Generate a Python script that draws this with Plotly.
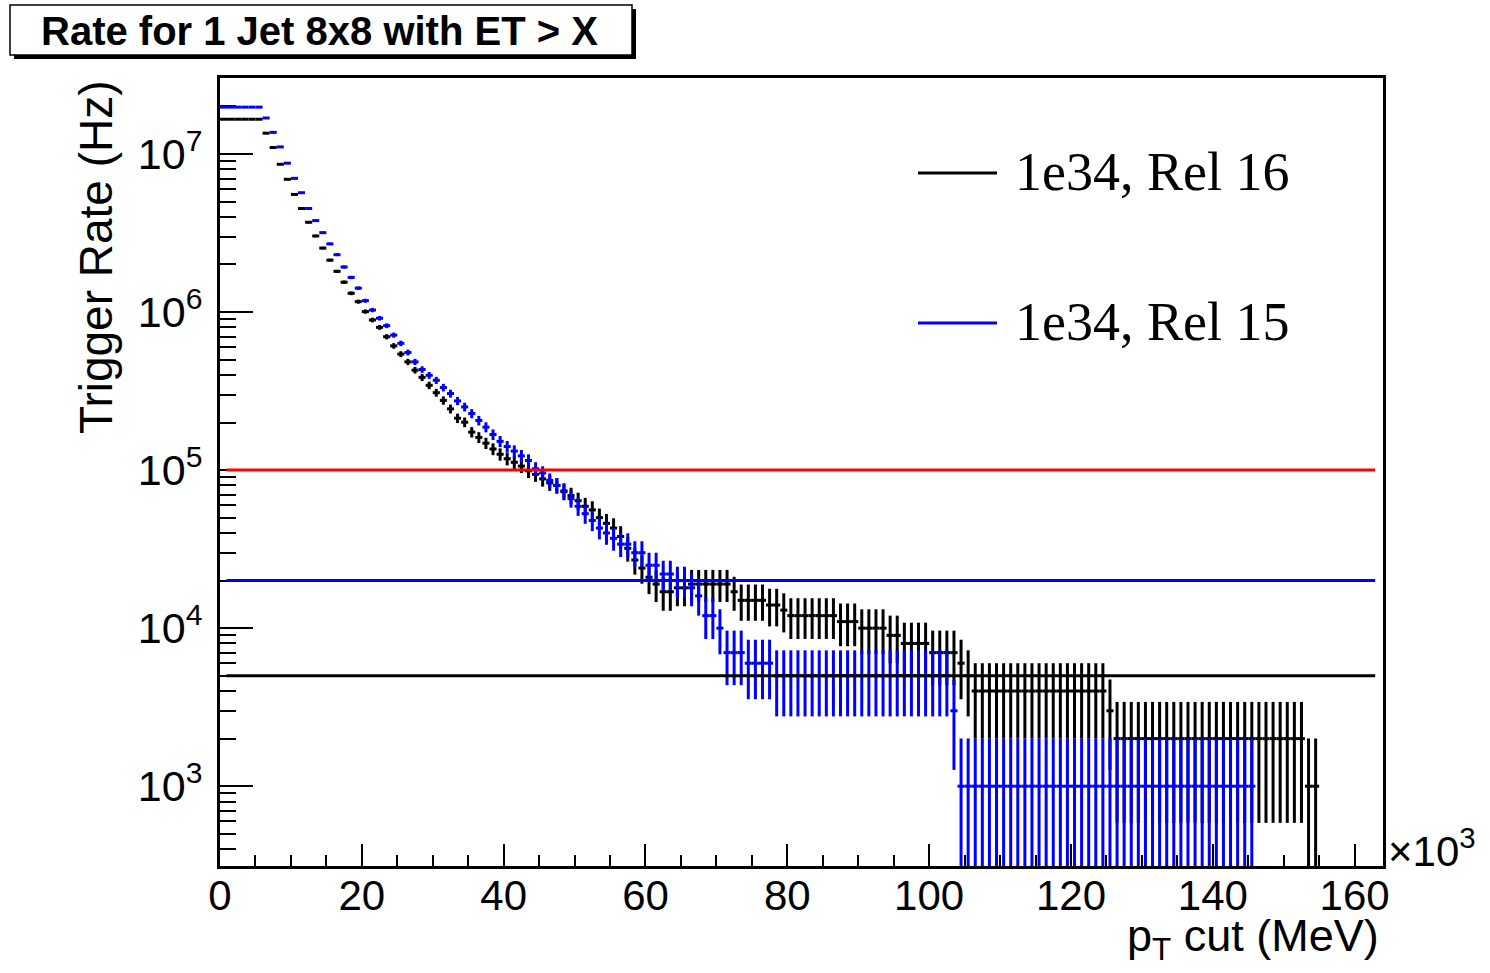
import math
import plotly.graph_objects as go

# Bin width 1 (x10^3 MeV); each entry is one bin starting at its index.
# Counts of events passing the cut; each event corresponds to 1 kHz of rate.
rate_per_event = 1000.0

rel16_counts = [
    16600, 16600, 16600, 16600, 16600, 16600, 13550, 10990, 8610, 6920,
    5550, 4520, 3700, 3030, 2540, 2130, 1810, 1545, 1315, 1164,
    1007, 891, 800, 698, 611, 542, 484, 429, 386, 344,
    309, 276, 244, 213, 201, 174, 161, 148, 136, 126,
    118, 112, 106, 99, 94, 88, 83, 80, 73, 69,
    64, 59, 56, 50, 46, 43, 38, 32, 27, 24,
    21, 19, 17, 17, 18, 18, 19, 19, 19, 19,
    19, 19, 17, 15, 15, 15, 15, 14, 14, 13,
    12, 12, 12, 12, 12, 12, 12, 11, 11, 11,
    10, 10, 10, 10, 9, 9, 8, 8, 8, 8,
    7, 7, 7, 7, 6, 5, 4, 4, 4, 4,
    4, 4, 4, 4, 4, 4, 4, 4, 4, 4,
    4, 4, 4, 4, 4, 3, 2, 2, 2, 2,
    2, 2, 2, 2, 2, 2, 2, 2, 2, 2,
    2, 2, 2, 2, 2, 2, 2, 2, 2, 2,
    2, 2, 2, 1, 1,
]

rel15_counts = [
    19800, 19800, 19800, 19800, 19800, 19800, 16900, 13710, 11090, 8750,
    7015, 5690, 4520, 3790, 3180, 2700, 2307, 1928, 1656, 1416,
    1180, 1030, 914, 820, 715, 634, 555, 484, 433, 398,
    370, 333, 305, 274, 251, 228, 206, 187, 168, 152,
    141, 132, 123, 115, 102, 96, 86, 80, 74, 66,
    59, 53, 48, 43, 40, 37, 34, 34, 30, 30,
    25, 25, 22, 22, 20, 20, 18, 16, 12, 12,
    10, 7, 7, 7, 6, 6, 6, 6, 5, 5,
    5, 5, 5, 5, 5, 5, 5, 5, 5, 5,
    5, 5, 5, 5, 5, 5, 5, 5, 5, 5,
    5, 5, 5, 3, 1, 1, 1, 1, 1, 1,
    1, 1, 1, 1, 1, 1, 1, 1, 1, 1,
    1, 1, 1, 1, 1, 1, 1, 1, 1, 1,
    1, 1, 1, 1, 1, 1, 1, 1, 1, 1,
    1, 1, 1, 1, 1, 1,
]

series_names = ["1e34, Rel 16", "1e34, Rel 15"]
series_colors = ["#000000", "#0000ff"]

# Reference rate levels (Hz)
threshold_rates = [1e5, 2e4, 5e3]
threshold_colors = ["#ff0000", "#0000ff", "#000000"]
threshold_span = [0.9, 162.9]

x_tick_vals = [0, 20, 40, 60, 80, 100, 120, 140, 160]
x_tick_text = ["0", "20", "40", "60", "80", "100", "120", "140", "160"]
y_tick_vals = [1e3, 1e4, 1e5, 1e6, 1e7]
y_tick_text = ["10<sup>3</sup>", "10<sup>4</sup>", "10<sup>5</sup>",
               "10<sup>6</sup>", "10<sup>7</sup>"]

title_text = "Rate for 1 Jet 8x8 with ET > X"
x_title = "p<sub>T</sub> cut (MeV)"
y_title = "Trigger Rate (Hz)"

W, H = 1490, 973
L, R, T, B = 220, 107, 78, 107
PW, PH = W - L - R, H - T - B

SANS = "Liberation Sans, Arial, Helvetica, sans-serif"
SERIF = "Liberation Serif, Times New Roman, serif"
BAR_W = 3


def px_x(p):
    return (p - L) / PW


def px_y(p):
    return (H - B - p) / PH


fig = go.Figure()

for counts, name, color in zip([rel16_counts, rel15_counts], series_names, series_colors):
    rates = [n * rate_per_event for n in counts]
    errs = [math.sqrt(n) * rate_per_event for n in counts]

    # horizontal bin-width bars at each bin content
    hx, hy = [], []
    for i, r in enumerate(rates):
        hx += [i, i + 1, None]
        hy += [r, r, None]
    fig.add_trace(go.Scatter(
        x=hx, y=hy, mode="lines", name=name, showlegend=False,
        line=dict(color=color, width=BAR_W), hoverinfo="skip",
    ))

    # vertical statistical error bars at bin centres
    fig.add_trace(go.Scatter(
        x=[i + 0.5 for i in range(len(rates))], y=rates, mode="markers",
        showlegend=False, name=name,
        marker=dict(size=1, opacity=0, color=color),
        error_y=dict(type="data", array=errs, width=0, thickness=BAR_W, color=color),
    ))

for rate, color in zip(threshold_rates, threshold_colors):
    fig.add_trace(go.Scatter(
        x=threshold_span, y=[rate, rate], mode="lines", showlegend=False,
        line=dict(color=color, width=3), hoverinfo="skip",
    ))

shapes = []
annotations = []

# Legend: line samples with serif labels
legend_rows = [173, 323]
for row_y, name, color in zip(legend_rows, series_names, series_colors):
    shapes.append(dict(type="line", xref="paper", yref="paper",
                       x0=px_x(918), x1=px_x(997), y0=px_y(row_y), y1=px_y(row_y),
                       line=dict(color=color, width=3)))
    annotations.append(dict(xref="paper", yref="paper", x=px_x(1013), y=px_y(row_y - 1),
                            text=name, showarrow=False, xanchor="left", yanchor="middle",
                            font=dict(family=SERIF, size=54, color="#000000")))

# Title box with drop shadow
shapes.append(dict(type="rect", xref="paper", yref="paper",
                   x0=px_x(14), x1=px_x(636), y0=px_y(59), y1=px_y(9),
                   fillcolor="#000000", line=dict(width=0), layer="above"))
shapes.append(dict(type="rect", xref="paper", yref="paper",
                   x0=px_x(10), x1=px_x(632), y0=px_y(55), y1=px_y(5),
                   fillcolor="#ffffff", line=dict(color="#000000", width=1.5), layer="above"))
annotations.append(dict(xref="paper", yref="paper", x=px_x(319), y=px_y(31),
                        text="<b>" + title_text.replace(">", "&gt;") + "</b>",
                        showarrow=False, xanchor="center", yanchor="middle",
                        font=dict(family=SANS, size=40, color="#000000")))

# Axis titles
annotations.append(dict(xref="paper", yref="paper", x=px_x(1381), y=px_y(938),
                        text=x_title, showarrow=False, xanchor="right", yanchor="middle",
                        font=dict(family=SANS, size=45, color="#000000")))
annotations.append(dict(xref="paper", yref="paper", x=px_x(96), y=px_y(257),
                        text=y_title, showarrow=False, textangle=-90,
                        xanchor="center", yanchor="middle",
                        font=dict(family=SANS, size=46, color="#000000")))
annotations.append(dict(xref="paper", yref="paper", x=px_x(1386), y=px_y(848),
                        text="\u00d710<sup>3</sup>", showarrow=False,
                        xanchor="left", yanchor="middle",
                        font=dict(family=SANS, size=42, color="#000000")))

fig.update_layout(
    width=W, height=H,
    margin=dict(l=L, r=R, t=T, b=B, pad=0),
    paper_bgcolor="#ffffff", plot_bgcolor="#ffffff",
    shapes=shapes, annotations=annotations,
    showlegend=False,
)

fig.update_xaxes(
    range=[0, 164], showgrid=False, zeroline=False,
    showline=True, linecolor="#000000", linewidth=3, mirror=True,
    ticks="inside", ticklen=22, tickwidth=2, tickcolor="#000000",
    tickvals=x_tick_vals, ticktext=x_tick_text,
    tickfont=dict(family=SANS, size=42, color="#000000"),
    ticklabelstandoff=-9,
    minor=dict(ticks="inside", ticklen=11, tickwidth=2, tickcolor="#000000",
               dtick=5, tick0=0, showgrid=False),
    layer="above traces",
)

fig.update_yaxes(
    type="log", range=[2.495, 7.481], showgrid=False, zeroline=False,
    showline=True, linecolor="#000000", linewidth=3, mirror=True,
    ticks="inside", ticklen=33, tickwidth=2, tickcolor="#000000",
    tickvals=y_tick_vals, ticktext=y_tick_text,
    tickfont=dict(family=SANS, size=43, color="#000000"),
    ticklabelstandoff=6,
    minor=dict(ticks="inside", ticklen=16, tickwidth=2, tickcolor="#000000",
               dtick="D1", showgrid=False),
    layer="below traces",
)

fig.write_html("out.html")
